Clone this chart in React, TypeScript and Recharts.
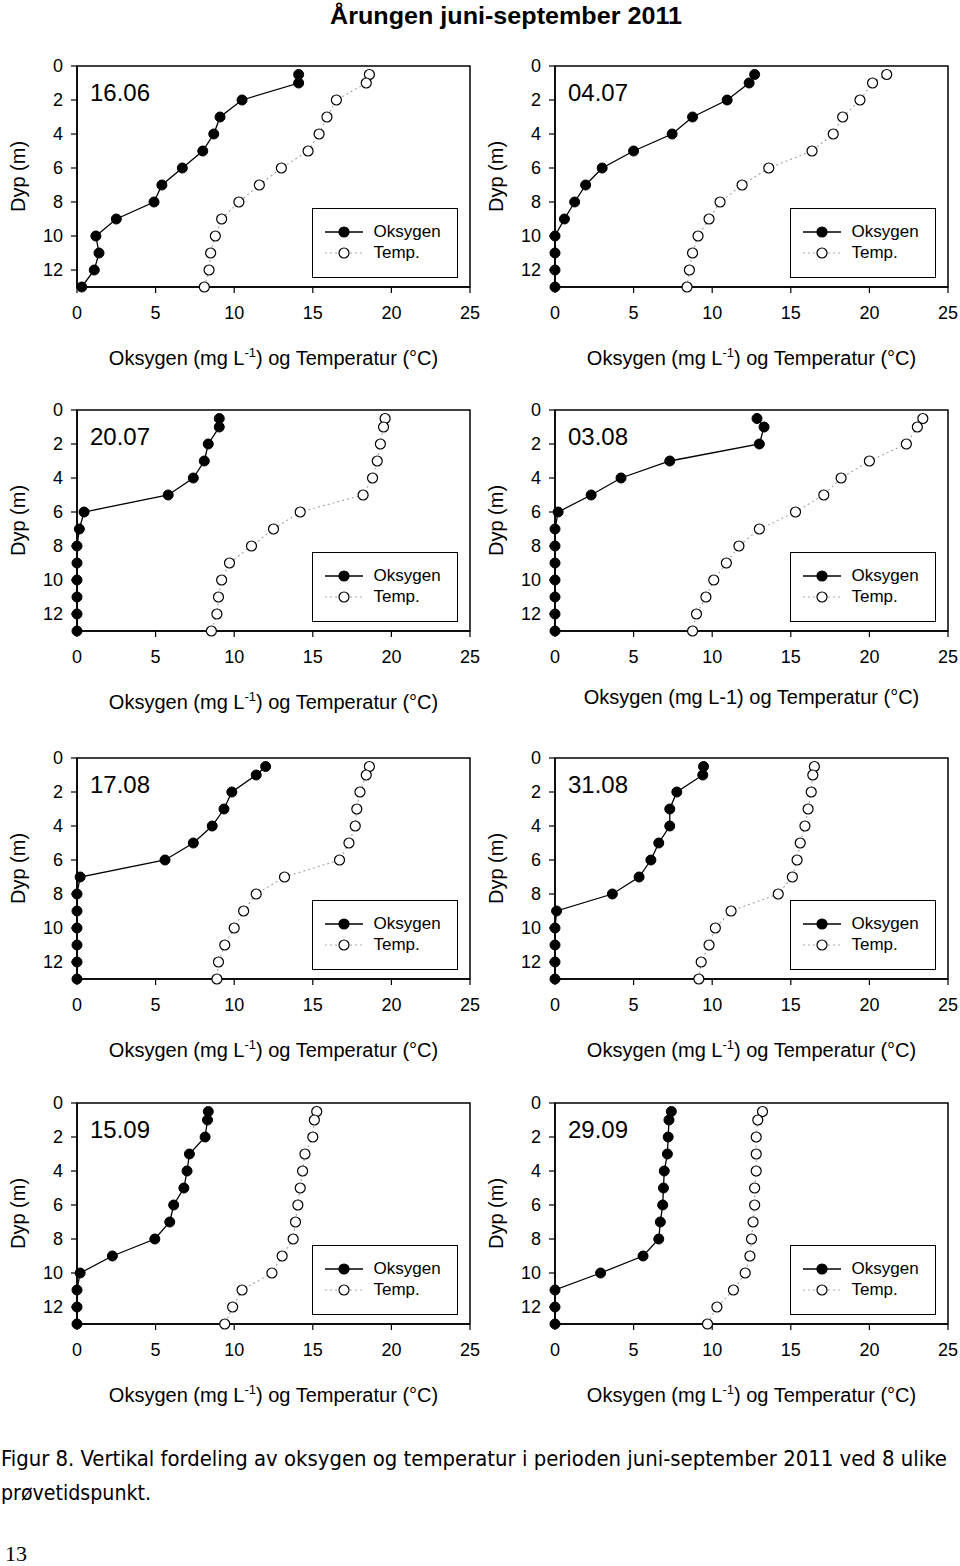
import React from 'react';
import { ScatterChart, Scatter, XAxis, YAxis, ReferenceArea } from 'recharts';

// ---------- data ----------
const depths = [0.5, 1, 2, 3, 4, 5, 6, 7, 8, 9, 10, 11, 12, 13];
const xTicks = [0, 5, 10, 15, 20, 25];
const yTicks = [0, 2, 4, 6, 8, 10, 12];
const dates = ['16.06', '04.07', '20.07', '03.08', '17.08', '31.08', '15.09', '29.09'];

const oxy1606 = [14.1, 14.1, 10.5, 9.1, 8.7, 8.0, 6.7, 5.4, 4.9, 2.5, 1.2, 1.4, 1.1, 0.3];
const temp1606 = [18.6, 18.4, 16.5, 15.9, 15.4, 14.7, 13.0, 11.6, 10.3, 9.2, 8.8, 8.5, 8.4, 8.1];

const oxy0407 = [12.7, 12.35, 10.95, 8.75, 7.45, 5.0, 3.0, 1.95, 1.25, 0.6, 0, 0, 0, 0];
const temp0407 = [21.1, 20.2, 19.4, 18.3, 17.7, 16.35, 13.6, 11.9, 10.5, 9.8, 9.1, 8.75, 8.55, 8.4];

const oxy2007 = [9.05, 9.05, 8.35, 8.1, 7.4, 5.8, 0.45, 0.15, 0, 0, 0, 0, 0, 0];
const temp2007 = [19.6, 19.5, 19.3, 19.1, 18.8, 18.2, 14.2, 12.5, 11.1, 9.7, 9.2, 9.0, 8.9, 8.55];

const oxy0308 = [12.85, 13.3, 13.0, 7.3, 4.2, 2.3, 0.2, 0, 0, 0, 0, 0, 0, 0];
const temp0308 = [23.4, 23.05, 22.35, 20.0, 18.2, 17.1, 15.3, 13.0, 11.7, 10.9, 10.1, 9.6, 9.0, 8.75];

const oxy1708 = [12.0, 11.4, 9.85, 9.35, 8.6, 7.4, 5.6, 0.2, 0, 0, 0, 0, 0, 0];
const temp1708 = [18.6, 18.4, 18.0, 17.8, 17.7, 17.3, 16.7, 13.2, 11.4, 10.6, 10.0, 9.4, 9.0, 8.9];

const oxy3108 = [9.45, 9.4, 7.75, 7.3, 7.3, 6.6, 6.1, 5.35, 3.65, 0.1, 0, 0, 0, 0];
const temp3108 = [16.5, 16.4, 16.3, 16.1, 15.9, 15.6, 15.4, 15.1, 14.2, 11.2, 10.2, 9.8, 9.3, 9.15];

const oxy1509 = [8.35, 8.3, 8.15, 7.15, 7.0, 6.8, 6.15, 5.9, 4.95, 2.25, 0.2, 0, 0, 0];
const temp1509 = [15.25, 15.1, 15.0, 14.5, 14.35, 14.2, 14.05, 13.9, 13.75, 13.05, 12.4, 10.5, 9.9, 9.4];

const oxy2909 = [7.4, 7.25, 7.2, 7.15, 6.95, 6.9, 6.85, 6.7, 6.6, 5.6, 2.9, 0, 0, 0];
const temp2909 = [13.2, 12.9, 12.8, 12.8, 12.8, 12.7, 12.7, 12.6, 12.5, 12.4, 12.1, 11.35, 10.3, 9.7];

const oxySeries = [oxy1606, oxy0407, oxy2007, oxy0308, oxy1708, oxy3108, oxy1509, oxy2909];
const tempSeries = [temp1606, temp0407, temp2007, temp0308, temp1708, temp3108, temp1509, temp2909];

const title = 'Årungen juni-september 2011';
const captionLine1 = 'Figur 8. Vertikal fordeling av oksygen og temperatur i perioden juni-september 2011 ved 8 ulike';
const captionLine2 = 'prøvetidspunkt.';
const pageNumber = '13';

// ---------- layout ----------
const FONT = '"Liberation Sans", Arial, Helvetica, sans-serif';
const colLeft = [0, 478];
const rowPlotTop = [66, 410, 758, 1103];
const TOP_M = 20;
const Y_W = 77;
const PLOT_H = 221;
const X_H = 90;

const toPoints = (vals: number[]) => vals.map((v, i) => ({ x: v, y: depths[i] }));

const filledDot = (p: any) => <circle cx={p.cx} cy={p.cy} r={5} fill="#000" stroke="#000" strokeWidth={1} />;
const openDot = (p: any) => <circle cx={p.cx} cy={p.cy} r={5} fill="#fff" stroke="#000" strokeWidth={1.2} />;

const makeXLabel = (plain: boolean) => (props: any) => {
  const vb = props.viewBox || {};
  const cx = (vb.x ?? 77) + (vb.width ?? 393) / 2;
  const y = (vb.y ?? 241) + (plain ? 73 : 78);
  if (plain) {
    return (
      <text x={cx} y={y} textAnchor="middle" fontSize={20} fill="#000" fontFamily={FONT}>
        Oksygen (mg L-1) og Temperatur (°C)
      </text>
    );
  }
  return (
    <text x={cx} y={y} textAnchor="middle" fontSize={20} fill="#000" fontFamily={FONT}>
      <tspan>Oksygen (mg L</tspan>
      <tspan dy={-8} fontSize={13}>-1</tspan>
      <tspan dy={8}>) og Temperatur (°C)</tspan>
    </text>
  );
};

const yLabel = (props: any) => {
  const vb = props.viewBox || {};
  const x = 18;
  const y = (vb.y ?? TOP_M) + (vb.height ?? PLOT_H) / 2;
  return (
    <text x={x} y={y} transform={`rotate(-90 ${x} ${y})`} textAnchor="middle" dominantBaseline="central"
      fontSize={20} fill="#000" fontFamily={FONT}>
      Dyp (m)
    </text>
  );
};

const LegendIcon = ({ filled }: { filled: boolean }) => (
  <svg width={40} height={14} style={{ display: 'block' }}>
    {filled ? (
      <line x1={1} y1={7} x2={39} y2={7} stroke="#000" strokeWidth={1.3} />
    ) : (
      <line x1={1} y1={7} x2={39} y2={7} stroke="#aaa" strokeWidth={1.2} strokeDasharray="2 3" />
    )}
    <circle cx={20} cy={7} r={5} fill={filled ? '#000' : '#fff'} stroke="#000" strokeWidth={1.2} />
  </svg>
);

const Panel = ({ idx }: { idx: number }) => {
  const col = idx % 2;
  const row = Math.floor(idx / 2);
  const left = colLeft[col];
  const plotTop = rowPlotTop[row];
  const top = plotTop - TOP_M;
  const plain = idx === 3;
  return (
    <div style={{ position: 'absolute', left, top, width: 480, height: TOP_M + PLOT_H + X_H }}>
      <ScatterChart width={480} height={TOP_M + PLOT_H + X_H} margin={{ top: TOP_M, right: 10, bottom: 0, left: 0 }}>
        <XAxis type="number" dataKey="x" domain={[0, 25]} ticks={xTicks} interval={0} height={X_H}
          axisLine={{ stroke: '#000', strokeWidth: 1.5 }} tickLine={{ stroke: '#000', strokeWidth: 1.2 }}
          tickSize={6} tickMargin={13} tick={{ fontSize: 18, fill: '#000', fontFamily: FONT }}
          label={makeXLabel(plain)} />
        <YAxis type="number" dataKey="y" domain={[0, 13]} reversed ticks={yTicks} interval={0} width={Y_W}
          axisLine={{ stroke: '#000', strokeWidth: 1.5 }} tickLine={{ stroke: '#000', strokeWidth: 1.2 }}
          tickSize={6} tickMargin={8} tick={{ fontSize: 18, fill: '#000', fontFamily: FONT }}
          label={yLabel} />
        <ReferenceArea x1={0} x2={25} y1={0} y2={13} fill="none" fillOpacity={0} stroke="#000" strokeWidth={1.5} ifOverflow="visible" />
        <Scatter data={toPoints(tempSeries[idx])} isAnimationActive={false} lineType="joint"
          line={{ stroke: '#aaa', strokeWidth: 1.2, strokeDasharray: '2 3' }} shape={openDot} />
        <Scatter data={toPoints(oxySeries[idx])} isAnimationActive={false} lineType="joint"
          line={{ stroke: '#000', strokeWidth: 1.3 }} shape={filledDot} />
      </ScatterChart>
      {/* date label */}
      <div style={{ position: 'absolute', left: Y_W + 13, top: TOP_M + 34 - 19.5, fontFamily: FONT, fontSize: 24, lineHeight: '24px', color: '#000' }}>
        {dates[idx]}
      </div>
      {/* legend */}
      <div style={{ position: 'absolute', left: Y_W + 234.5, top: TOP_M + 141.5, width: 146, height: 70, boxSizing: 'border-box',
        border: '1.5px solid #000', background: '#fff', fontFamily: FONT, fontSize: 17, color: '#000' }}>
        <div style={{ position: 'absolute', left: 11, top: 16.5 }}>
          <LegendIcon filled={true} />
        </div>
        <div style={{ position: 'absolute', left: 61, top: 13, lineHeight: '20px' }}>Oksygen</div>
        <div style={{ position: 'absolute', left: 11, top: 37.5 }}>
          <LegendIcon filled={false} />
        </div>
        <div style={{ position: 'absolute', left: 61, top: 34, lineHeight: '20px' }}>Temp.</div>
      </div>
    </div>
  );
};

export default function App() {
  return (
    <div style={{ position: 'absolute', left: 0, top: 0, width: 960, height: 1566, background: '#fff', overflow: 'hidden' }}>
      <svg width={960} height={40} style={{ position: 'absolute', left: 0, top: 0 }}>
        <text x={330} y={24} fontFamily={FONT} fontWeight="bold" fontSize={24} fill="#000" textLength={352} lengthAdjust="spacingAndGlyphs">
          {title}
        </text>
      </svg>
      {dates.map((_, i) => (
        <Panel key={i} idx={i} />
      ))}
      <svg width={960} height={140} style={{ position: 'absolute', left: 0, top: 1426 }}>
        <text x={1} y={40} fontFamily='"Liberation Sans Narrow", "DejaVu Sans Condensed", "Liberation Sans", sans-serif' fontSize={22} fill="#000"
          textLength={946} lengthAdjust="spacingAndGlyphs">
          {captionLine1}
        </text>
        <text x={1} y={74} fontFamily='"Liberation Sans Narrow", "DejaVu Sans Condensed", "Liberation Sans", sans-serif' fontSize={22} fill="#000"
          textLength={150} lengthAdjust="spacingAndGlyphs">
          {captionLine2}
        </text>
        <text x={5} y={135} fontFamily='"Liberation Serif", "Times New Roman", serif' fontSize={22} fill="#000">
          {pageNumber}
        </text>
      </svg>
    </div>
  );
}
